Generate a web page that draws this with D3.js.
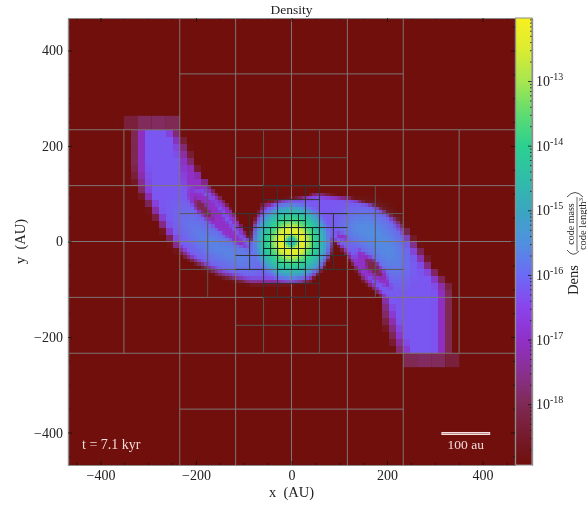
<!DOCTYPE html>
<html>
<head>
<meta charset="utf-8">
<script src="https://cdnjs.cloudflare.com/ajax/libs/d3/7.8.5/d3.min.js"></script>
<style>
  html, body { margin: 0; padding: 0; background: #fff; }
  #chart { position: relative; width: 587px; height: 506px; overflow: hidden; }
  #chart canvas, #chart svg { position: absolute; left: 0; top: 0; }
  text { font-family: "Liberation Serif", serif; fill: #222; }
</style>
</head>
<body>
<div id="chart"></div>
<script>
// colormap: log10(density) -> colour
var colorLogs = [-18.94, -18.5, -18, -17.5, -17, -16.5, -16, -15.5, -15, -14.5, -14, -13.5, -13, -12.5, -12.025];
var colorHexs = ["#700f0b", "#761a2c", "#7f2a55", "#8a3090", "#9030c8", "#8a44ec", "#6c6af5", "#5090e0", "#3aa6c0", "#30bda8", "#2cd090", "#60dc70", "#a8e650", "#dcec30", "#f8f020"];

// outlines of the density bands, in AU, as [x, y]
var outerBand = [[-336,234],[-336,161],[-330,130],[-321,109],[-292,61],[-265,19],[-248,-10],[-223,-34],[-192,-52],[-150,-73],[-87,-90],[-3,-90],[39,-86],[66,-59],[85,-23],[87,4],[108,-21],[129,-52],[150,-84],[190,-117],[190,-157],[206,-199],[221,-234],[336,-234],[336,-100],[317,-75],[296,-59],[275,-23],[248,15],[223,46],[179,71],[122,92],[53,103],[18,92],[-24,88],[-60,80],[-76,52],[-83,19],[-85,-10],[-102,19],[-122,61],[-143,88],[-171,115],[-192,130],[-206,172],[-223,207],[-238,234]];
var magentaBand = [[-321,234],[-321,151],[-311,109],[-286,61],[-259,19],[-242,-8],[-217,-31],[-185,-48],[-146,-67],[-87,-84],[-3,-86],[37,-80],[62,-54],[81,-21],[85,8],[112,-21],[133,-50],[156,-82],[194,-117],[204,-157],[219,-199],[233,-234],[321,-234],[321,-100],[305,-75],[286,-54],[265,-21],[238,19],[213,48],[175,75],[122,90],[53,98],[18,90],[-24,84],[-56,75],[-72,50],[-79,19],[-81,-8],[-95,13],[-112,42],[-133,71],[-160,96],[-181,124],[-219,172],[-234,207],[-248,234]];
var violetBand = [[-307,234],[-307,161],[-300,109],[-275,61],[-250,19],[-233,-8],[-208,-31],[-179,-46],[-139,-63],[-87,-77],[-3,-80],[32,-73],[58,-48],[76,-17],[81,13],[116,-17],[139,-48],[164,-80],[200,-117],[217,-157],[231,-199],[248,-234],[306,-234],[306,-100],[292,-73],[271,-46],[252,-17],[227,21],[204,50],[169,73],[122,86],[53,94],[18,86],[-24,80],[-51,71],[-68,46],[-74,19],[-76,-4],[-102,8],[-125,42],[-146,71],[-175,105],[-223,115],[-234,172],[-244,207],[-261,234]];
var blueLeft = [[-238,88],[-202,42],[-160,15],[-91,-21],[-45,-42],[-87,-63],[-139,-46],[-181,-25],[-213,13],[-238,57]];
var blueRight = [[116,61],[175,61],[217,21],[238,-27],[231,-101],[202,-59],[154,-13],[102,21]];

// slits of low density inside the arms
var slitLeft = [[-217,109],[-192,105],[-160,82],[-139,46],[-108,8],[-87,-17],[-108,-10],[-139,13],[-171,40],[-198,63],[-217,92]];
var slitLeftCore = [[-202,94],[-181,77],[-162,46],[-181,54],[-200,73]];
var slitRight = [[139,-17],[169,-34],[196,-63],[210,-101],[190,-90],[154,-69],[133,-42]];
var slitRightCore = [[154,-34],[175,-42],[194,-77],[175,-69],[158,-54]];
var slitSmall = [[93,21],[116,13],[118,2],[97,8]];

// band levels, log10(density)
var outerLog = -18, magentaLog = -17, violetLog = -16.25, blueLog = -15.5, slitLog = -17, slitCoreLog = -18.1;

// central disc: radial profile
var discRadii = [0, 8, 12, 16, 28, 34, 42, 50, 60, 72, 82, 90];
var discLogs = [-14.7, -14.5, -13.4, -12.4, -12.4, -12.9, -13.6, -14, -14.5, -15.2, -15.8, -16.2];
var discAlpha = [1, 1, 1, 1, 1, 1, 1, 1, 1, 1, 0.6, 0];

// coarse end caps of the two arms: [x of left edge, log density]
var capWidth = 29.25;
var capTop = [[-351,-18.3],[-322,-17.95],[-292.5,-17.9],[-263,-18.0]];
var capBottom = [[234,-18.0],[263,-17.9],[292.5,-17.95],[322,-18.3]];

// AMR grid segments in block units [x1, y1, x2, y2], one list per shade
var gridUnit = 29.25;
var gridOuter = [[-16,8,16,8],[-16,4,16,4],[-16,0,16,0],[-16,-4,16,-4],[-16,-8,16,-8],[-8,16,-8,-16],[8,16,8,-16],[-4,16,-4,-16],[4,16,4,-16],[0,16,0,-16],[-12,8,-12,-8],[12,8,12,-8],[-8,12,8,12],[-8,-12,8,-12]];
var gridMiddle = [[-4,6,4,6],[-4,-6,4,-6],[-2,8,-2,4],[2,8,2,4],[-2,-4,-2,-8],[2,-4,2,-8],[-6,4,-6,-4],[6,4,6,-4],[-8,2,8,2],[-8,-2,8,-2]];
var gridInner = [[-2,4,-2,-4],[2,4,2,-4],[-1,4,-1,-4],[1,4,1,-4],[-2,4,2,4],[-2,3,2,3],[-2,-3,2,-3],[-2,-4,2,-4],[-3,2,-3,-2],[3,2,3,-2],[-4,1,4,1],[-4,-1,4,-1],[-4,2,-2,2],[2,2,4,2],[-4,-2,-2,-2],[2,-2,4,-2]];
var gridFine = [[-1,2,1,2],[-1,1.5,1,1.5],[-2,1,2,1],[-2,0.5,2,0.5],[-2,0,2,0],[-2,-0.5,2,-0.5],[-2,-1,2,-1],[-1,-1.5,1,-1.5],[-1,-2,1,-2],
  [-2,1,-2,-1],[-1.5,1,-1.5,-1],[-1,2,-1,-2],[-0.5,2,-0.5,-2],[0,2,0,-2],[0.5,2,0.5,-2],[1,2,1,-2],[1.5,1,1.5,-1],[2,1,2,-1]];

// regions drawn at each resolution: [xmin, xmax, ymin, ymax, cells across the domain]
var amrRegions = [[-468,468,-468,468,64],[-234,234,-117,117,128],[-58.5,58.5,-58.5,58.5,256]];

var xMajor = [-400, -200, 0, 200, 400];
var xMinor = [-450, -350, -300, -250, -150, -100, -50, 50, 100, 150, 250, 300, 350, 450];
var cbarDecades = [-18, -17, -16, -15, -14, -13];
var cbarMinorFactors = [2, 3, 4, 5, 6, 7, 8, 9];

var svgWidth = 587;
var svgHeight = 506;
var plot = { left: 68, right: 515, top: 18, bottom: 465 };
var cbar = { left: 515.5, right: 532 };
var domainMax = 468;

var xScale = d3.scaleLinear().domain([-domainMax, domainMax]).range([plot.left, plot.right]);
var yScale = d3.scaleLinear().domain([domainMax, -domainMax]).range([plot.top, plot.bottom]);
var colorScale = d3.scaleLinear().domain(colorLogs).range(colorHexs).interpolate(d3.interpolateRgb);

var chart = d3.select("#chart");

/********************************************/
// draw all bands on a small canvas of n x n cells
function renderField(n) {
  var off = document.createElement("canvas");
  off.width = n;
  off.height = n;
  var ctx = off.getContext("2d");
  var cx = d3.scaleLinear().domain([-domainMax, domainMax]).range([0, n]);
  var cy = d3.scaleLinear().domain([domainMax, -domainMax]).range([0, n]);
  var line = d3.line().x(d => cx(d[0])).y(d => cy(d[1])).context(ctx);
  var k = n / 128;

  function fillBand(points, log, blur) {
    ctx.filter = blur ? "blur(" + blur * k + "px)" : "none";
    ctx.fillStyle = colorScale(log);
    ctx.beginPath();
    line(points);
    ctx.closePath();
    ctx.fill();
    ctx.filter = "none";
  }

  ctx.fillStyle = colorScale(colorLogs[0]);
  ctx.fillRect(0, 0, n, n);

  fillBand(outerBand, outerLog, 0.4);
  fillBand(magentaBand, magentaLog, 0.3);
  fillBand(violetBand, violetLog, 0.3);
  fillBand(blueLeft, blueLog, 2.5);
  fillBand(blueRight, blueLog, 2.5);
  fillBand(slitLeft, slitLog, 0.5);
  fillBand(slitLeftCore, slitCoreLog, 0.7);
  fillBand(slitRight, slitLog, 0.7);
  fillBand(slitRightCore, slitCoreLog, 0.7);
  fillBand(slitSmall, slitLog, 0.3);

  // central disc, kept inside the outer outline
  ctx.save();
  ctx.beginPath();
  line(outerBand);
  ctx.closePath();
  ctx.clip();
  var radius = discRadii[discRadii.length - 1];
  var rpx = cx(radius) - cx(0);
  var grad = ctx.createRadialGradient(cx(0), cy(0), 0, cx(0), cy(0), rpx);
  discRadii.forEach(function (r, i) {
    var c = d3.color(colorScale(discLogs[i]));
    c.opacity = discAlpha[i];
    grad.addColorStop(r / radius, c.formatRgb());
  });
  ctx.fillStyle = grad;
  ctx.beginPath();
  ctx.arc(cx(0), cy(0), rpx, 0, 2 * Math.PI);
  ctx.fill();
  ctx.restore();

  return off;
}

/********************************************/
function drawImage() {
  var canvas = chart.append("canvas")
    .attr("width", svgWidth)
    .attr("height", svgHeight)
    .node();
  var ctx = canvas.getContext("2d");
  ctx.imageSmoothingEnabled = false;

  amrRegions.forEach(function (r) {
    var field = renderField(r[4]);
    ctx.save();
    ctx.beginPath();
    ctx.rect(xScale(r[0]), yScale(r[3]), xScale(r[1]) - xScale(r[0]), yScale(r[2]) - yScale(r[3]));
    ctx.clip();
    ctx.drawImage(field, plot.left, plot.top, plot.right - plot.left, plot.bottom - plot.top);
    ctx.restore();
  });

  capTop.forEach(function (c) {
    ctx.fillStyle = colorScale(c[1]);
    ctx.fillRect(xScale(c[0]), yScale(234 + capWidth), xScale(capWidth) - xScale(0), yScale(234) - yScale(234 + capWidth));
  });
  capBottom.forEach(function (c) {
    ctx.fillStyle = colorScale(c[1]);
    ctx.fillRect(xScale(c[0]), yScale(-234), xScale(capWidth) - xScale(0), yScale(-234 - capWidth) - yScale(-234));
  });

  // colorbar
  var cbarY = d3.scaleLinear().domain([colorLogs[0], colorLogs[colorLogs.length - 1]]).range([plot.bottom, plot.top]);
  d3.range(plot.top, plot.bottom).forEach(function (py) {
    ctx.fillStyle = colorScale(cbarY.invert(py + 0.5));
    ctx.fillRect(cbar.left, py, cbar.right - cbar.left, 1);
  });
}

/********************************************/
function drawGrid(g) {
  var levels = [
    { segs: gridOuter, color: "#7e7676", width: 1 },
    { segs: gridMiddle, color: "#5e5858", width: 1 },
    { segs: gridInner, color: "#363436", width: 1 },
    { segs: gridFine, color: "#0c2a2c", width: 1 }
  ];
  levels.forEach(function (level) {
    g.append("g").selectAll("line")
      .data(level.segs)
      .enter()
      .append("line")
      .attr("x1", d => xScale(d[0] * gridUnit))
      .attr("y1", d => yScale(d[1] * gridUnit))
      .attr("x2", d => xScale(d[2] * gridUnit))
      .attr("y2", d => yScale(d[3] * gridUnit))
      .attr("stroke", level.color)
      .attr("stroke-width", level.width);
  });
}

/********************************************/
function styleAxis(sel) {
  sel.selectAll(".domain").attr("stroke", "#8c8c8c").attr("stroke-width", 1.2);
  sel.selectAll("line").attr("stroke", "#111").attr("stroke-width", 0.8);
  sel.selectAll("text").attr("font-size", 14).attr("fill", "#222").attr("font-family", "Liberation Serif");
}

function tickLabel(d) {
  return d < 0 ? "\u2212" + Math.abs(d) : String(d);
}

function drawAxes(svg) {
  var sides = [
    { axis: d3.axisBottom(xScale), pos: `translate(0, ${plot.bottom})`, labels: true },
    { axis: d3.axisTop(xScale), pos: `translate(0, ${plot.top})`, labels: false },
    { axis: d3.axisLeft(yScale), pos: `translate(${plot.left}, 0)`, labels: true },
    { axis: d3.axisRight(yScale), pos: `translate(${plot.right}, 0)`, labels: false }
  ];
  sides.forEach(function (s) {
    svg.append("g")
      .attr("transform", s.pos)
      .call(s.axis.tickValues(xMinor).tickSizeInner(-2).tickSizeOuter(0).tickFormat(""))
      .call(styleAxis);
    svg.append("g")
      .attr("transform", s.pos)
      .call(s.axis.tickValues(xMajor).tickSizeInner(-4).tickSizeOuter(0).tickPadding(5)
        .tickFormat(s.labels ? tickLabel : ""))
      .call(styleAxis);
  });
}

/********************************************/
function drawColorbar(svg) {
  var logScale = d3.scaleLog()
    .domain([Math.pow(10, colorLogs[0]), Math.pow(10, colorLogs[colorLogs.length - 1])])
    .range([plot.bottom, plot.top]);

  var minor = [];
  d3.range(-19, -12).forEach(function (k) {
    cbarMinorFactors.forEach(function (f) {
      var v = f * Math.pow(10, k);
      if (v > logScale.domain()[0] && v < logScale.domain()[1]) minor.push(v);
    });
  });
  var majors = cbarDecades.map(k => Math.pow(10, k));

  var right = `translate(${cbar.right}, 0)`;
  svg.append("g").attr("transform", right)
    .call(d3.axisRight(logScale).tickValues(minor).tickSizeInner(-2).tickSizeOuter(0).tickFormat(""))
    .call(styleAxis);
  svg.append("g").attr("transform", right)
    .call(d3.axisRight(logScale).tickValues(majors).tickSizeInner(-4).tickSizeOuter(0).tickFormat(""))
    .call(styleAxis);

  svg.append("rect")
    .attr("x", cbar.left)
    .attr("y", plot.top)
    .attr("width", cbar.right - cbar.left)
    .attr("height", plot.bottom - plot.top)
    .attr("fill", "none")
    .attr("stroke", "#8c8c8c")
    .attr("stroke-width", 1);

  var labels = svg.append("g").selectAll("text")
    .data(cbarDecades)
    .enter()
    .append("text")
    .attr("x", cbar.right + 4)
    .attr("y", d => logScale(Math.pow(10, d)) + 5)
    .attr("font-size", 14);
  labels.append("tspan").text("10");
  labels.append("tspan")
    .attr("font-size", 10)
    .attr("dy", -6)
    .text(d => "-" + Math.abs(d));

  // rotated label
  var unitLabel = svg.append("g").attr("transform", "translate(578, 280) rotate(-90)");
  unitLabel.append("text")
    .attr("text-anchor", "middle")
    .attr("font-size", 14.5)
    .text("Dens");

  var frac = svg.append("g").attr("transform", "translate(577, 224) rotate(-90)");
  frac.append("text")
    .attr("text-anchor", "middle")
    .attr("y", -3.5)
    .attr("font-size", 10)
    .text("code mass");
  var bottomText = frac.append("text")
    .attr("text-anchor", "middle")
    .attr("y", 9)
    .attr("font-size", 10.5);
  bottomText.append("tspan").text("code length");
  bottomText.append("tspan").attr("font-size", 7).attr("dy", -3).text("3");
  frac.append("line")
    .attr("x1", -27).attr("x2", 27)
    .attr("y1", 0).attr("y2", 0)
    .attr("stroke", "#222")
    .attr("stroke-width", 0.7);

  svg.append("path")
    .attr("d", "M567,197 Q575,188 583,197 M567,250 Q573,258 579,251")
    .attr("fill", "none")
    .attr("stroke", "#222")
    .attr("stroke-width", 0.8);
}

/********************************************/
function drawLabels(svg) {
  svg.append("text")
    .attr("x", xScale(0))
    .attr("y", 14)
    .attr("text-anchor", "middle")
    .attr("font-size", 13.5)
    .text("Density");

  svg.append("text")
    .attr("x", xScale(0))
    .attr("y", 497)
    .attr("text-anchor", "middle")
    .attr("font-size", 14.5)
    .style("white-space", "pre")
    .text("x  (AU)");

  svg.append("text")
    .attr("transform", `translate(25, ${yScale(0)}) rotate(-90)`)
    .attr("text-anchor", "middle")
    .attr("font-size", 14.5)
    .style("white-space", "pre")
    .text("y  (AU)");

  svg.append("text")
    .attr("x", 82)
    .attr("y", 449)
    .attr("font-size", 14)
    .style("fill", "#f4dcdc")
    .text("t = 7.1 kyr");

  svg.append("text")
    .attr("x", xScale(365))
    .attr("y", 449)
    .attr("text-anchor", "middle")
    .attr("font-size", 13.5)
    .style("fill", "#f4dcdc")
    .text("100 au");

  // 100 au scale bar
  svg.append("rect")
    .attr("x", xScale(315))
    .attr("y", yScale(-402) - 1)
    .attr("width", xScale(100) - xScale(0))
    .attr("height", 2)
    .attr("fill", "#c88a8a")
    .attr("stroke", "#f4e4e4")
    .attr("stroke-width", 1);
}

/********************************************/
drawImage();

var svg = chart.append("svg")
  .attr("width", svgWidth)
  .attr("height", svgHeight);

drawGrid(svg.append("g"));
drawAxes(svg);
drawColorbar(svg);
drawLabels(svg);
</script>
</body>
</html>
